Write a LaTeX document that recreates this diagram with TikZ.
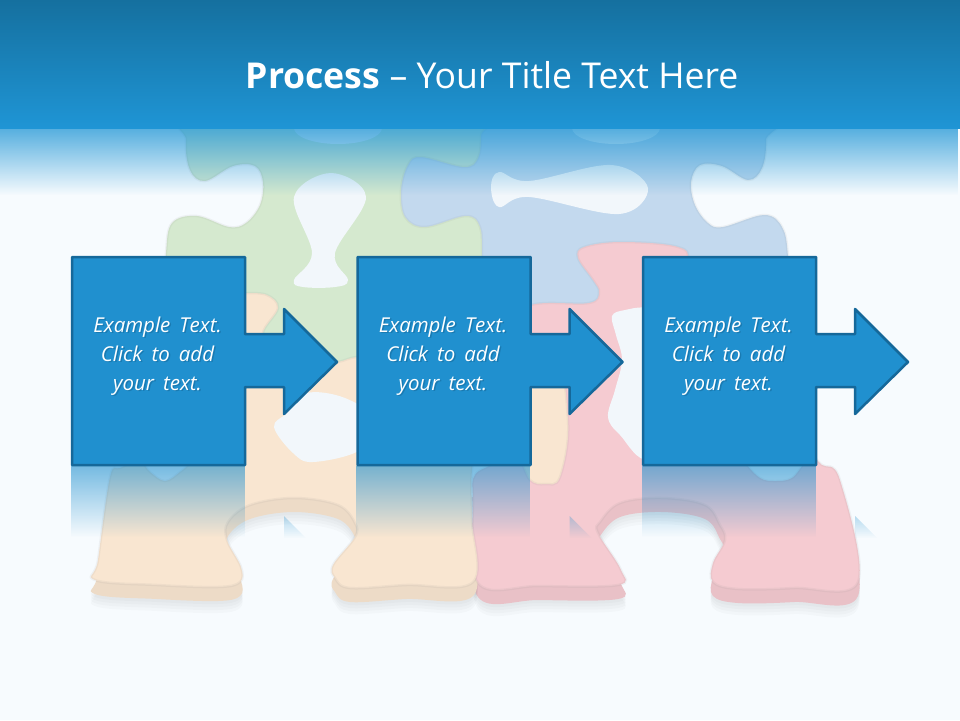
\documentclass[tikz,border=0pt]{standalone}
\usepackage{fontspec}
\setmainfont{Open Sans}
\newfontfamily\boxfont{Open Sans}[WordSpace=1.7]
\usetikzlibrary{fadings}
\definecolor{pagebg}{HTML}{F7FBFE}
\definecolor{holebg}{HTML}{F2F7FB}
\definecolor{barblue}{HTML}{1F95D5}
\definecolor{bardark}{HTML}{15709F}
\definecolor{boxblue}{HTML}{2090CF}
\definecolor{boxedge}{HTML}{15689A}
\definecolor{greenface}{HTML}{D5E9CF}
\definecolor{blueface}{HTML}{C3D9EE}
\definecolor{redface}{HTML}{F5CBD1}
\definecolor{orangeface}{HTML}{F9E6D1}
\tikzfading[name=barfade, top color=transparent!25, bottom color=transparent!100]
\tikzfading[name=reflectfade, top color=transparent!40, bottom color=transparent!100]
\tikzset{
	boxtext/.style={align=center, font=\fontsize{20.5}{29}\selectfont\boxfont\itshape, text=white},
	boxshape/.style={fill=boxblue, draw=boxedge, line width=2.5pt, line join=round},
	titletext/.style={font=\fontsize{35.6}{42}\selectfont, text=white},
	piecerim/.style={draw=black!45, draw opacity=.09, line width=2.5pt}
}
\newcommand{\greenoutline}{plot[smooth cycle,tension=.6] coordinates {(195,105) (186,140) (190,170) (205,181) (233,166) (255,166) (263,182) (260,205) (246,223) (229,227) (197,216) (172,223) (166,253) (165,300) (170,370) (350,375) (480,370) (484,320) (482,257) (480,227) (466,216) (425,227) (405,217) (401,190) (408,165) (421,157) (464,167) (478,158) (481,135) (480,105)}}
\newcommand{\blueoutline}{plot[smooth cycle,tension=.6] coordinates {(760,105) (766,140) (762,168) (748,180) (722,166) (700,165) (691,182) (695,205) (708,223) (723,227) (764,215) (782,227) (788,257) (790,330) (700,360) (400,350) (390,200) (390,105)}}
\newcommand{\redoutline}{plot[smooth cycle,tension=.6] coordinates {(531,305) (589,303) (599,292) (593,280) (578,258) (584,247) (621,242) (678,247) (690,265) (700,340) (735,440) (745,462) (760,478) (775,481) (792,478) (805,462) (812,456) (822,465) (840,480) (858,582) (794,588) (738,589) (713,582) (713,563) (725,540) (720,525) (705,505) (662,498) (620,503) (600,522) (598,533) (621,570) (618,585) (539,586) (478,583) (473,500) (475,475) (495,462) (510,440) (500,330)}}
\newcommand{\orangeoutline}{plot[smooth cycle,tension=.6] coordinates {(225,293) (245,293) (267,295) (278,308) (263,333) (275,350) (300,365) (337,362) (357,357) (400,355) (480,350) (550,345) (568,420) (560,477) (545,484) (530,480) (515,455) (480,450) (472,470) (472,520) (473,582) (406,585) (350,588) (335,578) (333,565) (355,537) (355,523) (338,505) (294,498) (250,505) (228,522) (227,540) (241,567) (240,582) (218,587) (157,585) (95,580) (98,560) (110,477) (120,468) (140,462) (150,472) (165,481) (180,472) (190,462) (200,440) (200,300)}}
\newcommand{\drawpiece}[2]{% face colour, outline
	\fill[#1, piecerim] #2;
}
\newcommand{\drawside}[2]{% face colour, outline
	\begin{scope}
		\clip (0,497) rectangle (960,720);
		\foreach \d in {17,20,23,26} {
			\fill[black, opacity=.02, yshift=-\d pt] #2;
		}
		\fill[#1!95!black, yshift=-14pt] #2;
	\end{scope}
}
\begin{document}
\begin{tikzpicture}[x=1pt,y=-1pt]
	\useasboundingbox (0,0) rectangle (960,720);
	\fill[pagebg] (0,0) rectangle (960,720);
	\drawside{redface}{\redoutline}
	\drawside{orangeface}{\orangeoutline}
	\drawpiece{blueface}{\blueoutline}
	\drawpiece{greenface}{\greenoutline}
	\drawpiece{redface}{\redoutline}
	\drawpiece{orangeface}{\orangeoutline}
	\fill[holebg] plot[smooth cycle,tension=.6] coordinates {(331,173) (366,197) (335,253) (348,280) (335,287) (303,287) (294,280) (312,253) (294,197)};
	\fill[holebg] plot[smooth cycle,tension=.6] coordinates {(491,187) (499,172) (529,181) (611,165) (648,188) (619,214) (529,197) (499,207)};
	\fill[holebg] plot[smooth cycle,tension=.6] coordinates {(625,310) (612,316) (616,335) (622,360) (615,390) (608,417) (620,435) (650,460) (700,420) (690,320) (650,308)};
	\fill[holebg] plot[smooth cycle,tension=.6] coordinates {(274,427) (287,413) (307,393) (345,398) (375,420) (360,450) (313,462) (293,453)};
	\fill[holebg] (338,128) ellipse (44 and 16);
	\fill[holebg] (616,128) ellipse (44 and 16);
	\fill[barblue, path fading=barfade] (0,128) rectangle (960,195);
	\shade[top color=bardark, bottom color=barblue] (0,0) rectangle (960,128);
	\node[titletext] (title) at (492,75) {\textbf{Process} – Your Title Text Here};
	\foreach \n/\x in {1/0,2/285.5,3/571} {
		\begin{scope}[xshift=\x pt]
			\fill[boxblue, path fading=reflectfade] (71,466) rectangle (245,537);
			\fill[boxblue, opacity=.5, path fading=reflectfade] (284,516) -- (306,538) -- (284,538) -- cycle;
			\draw[boxshape] (72,257) -- (245,257) -- (245,334) -- (284,334) -- (284,309) -- (337,362) -- (284,414) -- (284,387) -- (245,387) -- (245,465) -- (72,465) -- cycle;
			\node[boxtext, text=boxedge, opacity=.55] (shadow\n) at (159,357.5) {Example Text.\\Click to add\\your text.};
			\node[boxtext] (text\n) at (157.5,356) {Example Text.\\Click to add\\your text.};
		\end{scope}
	}
\end{tikzpicture}
\end{document}
